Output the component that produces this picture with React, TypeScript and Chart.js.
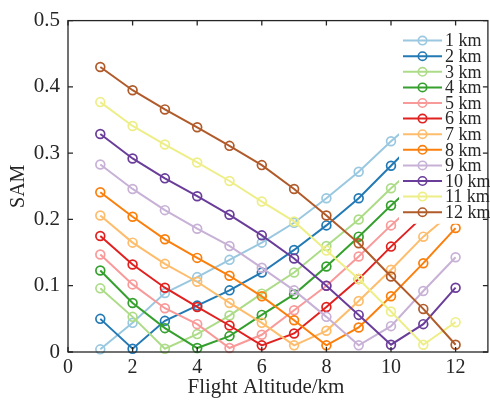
import React, { useEffect, useRef } from "react";
import { Chart, registerables } from "chart.js";

Chart.register(...registerables);

const altitudes = [1, 2, 3, 4, 5, 6, 7, 8, 9, 10, 11, 12];
const seriesNames = ["1 km", "2 km", "3 km", "4 km", "5 km", "6 km", "7 km", "8 km", "9 km", "10 km", "11 km", "12 km"];

const km1 = [0.004, 0.044, 0.089, 0.113, 0.139, 0.165, 0.195, 0.232, 0.272, 0.318, 0.36, 0.4];
const km2 = [0.05, 0.005, 0.047, 0.07, 0.093, 0.12, 0.154, 0.191, 0.232, 0.281, 0.33, 0.37];
const km3 = [0.096, 0.053, 0.005, 0.027, 0.055, 0.088, 0.12, 0.16, 0.2, 0.247, 0.29, 0.33];
const km4 = [0.123, 0.074, 0.036, 0.006, 0.024, 0.056, 0.087, 0.129, 0.174, 0.221, 0.265, 0.31];
const km5 = [0.147, 0.102, 0.066, 0.042, 0.006, 0.026, 0.063, 0.1, 0.144, 0.191, 0.235, 0.28];
const km6 = [0.175, 0.132, 0.097, 0.068, 0.04, 0.01, 0.028, 0.068, 0.11, 0.159, 0.205, 0.25];
const km7 = [0.206, 0.165, 0.133, 0.106, 0.074, 0.044, 0.01, 0.032, 0.077, 0.124, 0.174, 0.215];
const km8 = [0.241, 0.204, 0.17, 0.142, 0.115, 0.084, 0.048, 0.01, 0.037, 0.084, 0.134, 0.187];
const km9 = [0.283, 0.246, 0.214, 0.186, 0.16, 0.127, 0.093, 0.053, 0.01, 0.039, 0.092, 0.143];
const km10 = [0.329, 0.292, 0.262, 0.235, 0.207, 0.176, 0.141, 0.1, 0.056, 0.011, 0.042, 0.097];
const km11 = [0.377, 0.341, 0.313, 0.286, 0.258, 0.227, 0.197, 0.153, 0.11, 0.061, 0.011, 0.045];
const km12 = [0.43, 0.395, 0.366, 0.339, 0.311, 0.282, 0.246, 0.206, 0.164, 0.114, 0.065, 0.011];

const seriesValues = [km1, km2, km3, km4, km5, km6, km7, km8, km9, km10, km11, km12];

const colors = [
  "#9ac8e0", "#2379b4", "#addc88", "#35a02e", "#f89a99", "#e0211f",
  "#fdbd6c", "#fb7f0c", "#c8b1d6", "#6a3d9a", "#eeee88", "#b15a2a",
];

const xTicks = [0, 2, 4, 6, 8, 10, 12];
const yTicks = [0, 0.1, 0.2, 0.3, 0.4, 0.5];
const xTitle = "Flight Altitude/km";
const yTitle = "SAM";

const FONT = "'Liberation Serif', 'Times New Roman', serif";
const INK = "#262626";

const framePlugin = {
  id: "frameAndLegend",
  afterDatasetsDraw(chart: any) {
    const { ctx, chartArea: a, scales } = chart;
    const xs = scales.x;
    const ys = scales.y;
    ctx.save();

    // legend
    const lx = a.left + 335;
    const ly = a.top + 20;
    const rowH = 15.6;
    ctx.fillStyle = "#ffffff";
    ctx.fillRect(lx - 4, ly - 10, 120, rowH * seriesNames.length + 6);
    ctx.font = `18px ${FONT}`;
    ctx.textBaseline = "middle";
    ctx.textAlign = "left";
    seriesNames.forEach((name, i) => {
      const cy = ly + i * rowH;
      ctx.strokeStyle = colors[i];
      ctx.lineWidth = 2;
      ctx.beginPath();
      ctx.moveTo(lx, cy);
      ctx.lineTo(lx + 39, cy);
      ctx.stroke();
      ctx.lineWidth = 1.6;
      ctx.beginPath();
      ctx.arc(lx + 19.5, cy, 4.2, 0, Math.PI * 2);
      ctx.stroke();
      ctx.fillStyle = INK;
      ctx.fillText(name, lx + 42, cy + 1);
    });

    // axes box and inward ticks
    ctx.strokeStyle = INK;
    ctx.lineWidth = 1.3;
    ctx.strokeRect(a.left, a.top, a.right - a.left, a.bottom - a.top);
    const tl = 5;
    ctx.beginPath();
    xTicks.forEach((v) => {
      const px = xs.getPixelForValue(v);
      ctx.moveTo(px, a.bottom);
      ctx.lineTo(px, a.bottom - tl);
      ctx.moveTo(px, a.top);
      ctx.lineTo(px, a.top + tl);
    });
    yTicks.forEach((v) => {
      const py = ys.getPixelForValue(v);
      ctx.moveTo(a.left, py);
      ctx.lineTo(a.left + tl, py);
      ctx.moveTo(a.right, py);
      ctx.lineTo(a.right - tl, py);
    });
    ctx.stroke();

    // axis titles
    ctx.fillStyle = INK;
    ctx.textAlign = "center";
    ctx.textBaseline = "alphabetic";
    ctx.font = `21px ${FONT}`;
    ctx.fillText(xTitle, (a.left + a.right) / 2 - 12, a.bottom + 41);
    ctx.save();
    ctx.translate(24, (a.top + a.bottom) / 2);
    ctx.rotate(-Math.PI / 2);
    ctx.font = `20px ${FONT}`;
    ctx.fillText(yTitle, 0, 0);
    ctx.restore();

    ctx.restore();
  },
};

export default function App() {
  const ref = useRef<HTMLCanvasElement | null>(null);

  useEffect(() => {
    if (!ref.current) return;
    const datasets = seriesValues.map((vals, i) => ({
      label: seriesNames[i],
      data: altitudes.map((a, j) => ({ x: a, y: vals[j] })),
      borderColor: colors[i],
      backgroundColor: colors[i],
      pointBackgroundColor: "rgba(0,0,0,0)",
      pointBorderColor: colors[i],
      pointRadius: 4.4,
      pointBorderWidth: 1.7,
      borderWidth: 2,
      clip: false as any,
      order: seriesValues.length - 1 - i,
    }));

    const chart = new Chart(ref.current, {
      type: "line",
      data: { datasets },
      options: {
        responsive: false,
        animation: false,
        devicePixelRatio: 1,
        layout: { padding: { top: 16, right: 1, left: 0, bottom: 0 } },
        plugins: { legend: { display: false }, tooltip: { enabled: false } },
        scales: {
          x: {
            type: "linear",
            min: 0,
            max: 13,
            afterBuildTicks: (s: any) => {
              s.ticks = xTicks.map((v) => ({ value: v }));
            },
            afterFit: (s: any) => {
              s.height = 52;
            },
            grid: { display: false, drawTicks: false },
            border: { display: false },
            ticks: {
              padding: 4,
              maxRotation: 0,
              autoSkip: false,
              color: INK,
              font: { family: FONT, size: 20 },
            },
          },
          y: {
            type: "linear",
            min: 0,
            max: 0.5,
            afterBuildTicks: (s: any) => {
              s.ticks = yTicks.map((v) => ({ value: v }));
            },
            afterFit: (s: any) => {
              s.width = 68;
            },
            grid: { display: false, drawTicks: false },
            border: { display: false },
            ticks: {
              padding: 8,
              color: INK,
              font: { family: FONT, size: 21 },
            },
          },
        },
      },
      plugins: [framePlugin],
    });
    return () => chart.destroy();
  }, []);

  return (
    <div style={{ position: "fixed", left: 0, top: 0, width: 490, height: 404, overflow: "hidden", background: "#fff" }}>
      <canvas ref={ref} width={494} height={404} style={{ display: "block", width: 494, height: 404 }} />
    </div>
  );
}
